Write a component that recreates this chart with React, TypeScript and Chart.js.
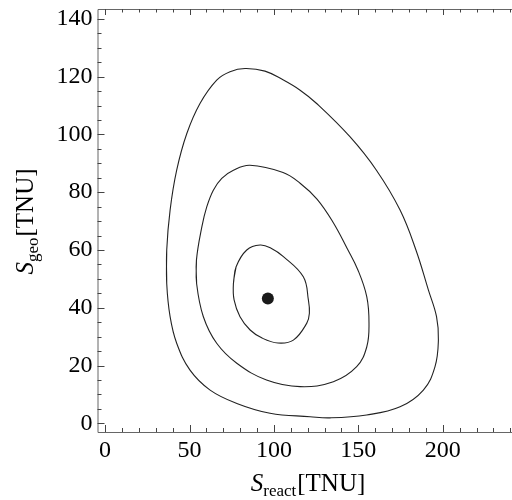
import React, { useEffect, useRef } from "react";
import { Chart, registerables } from "chart.js";

Chart.register(...registerables);

// ---- data ----
// Closed contours; each list starts on a straight stretch and repeats its first two points at the end.
const outerX = [36.5, 36.5, 38.5, 42.4, 48.4, 56.2, 66.1, 74.0, 82.9, 94.7, 105.6, 115.5, 125.3, 145, 160.7, 174.7, 184.1, 191.5, 196.3, 197.4, 195.4, 188.5, 174.7, 154.9, 133.2, 121.4, 97.7, 78, 62.2, 50.3, 42.4, 38.5, 36.5, 36.5];
const outerY = [48.4, 60, 73.8, 87.6, 100.3, 110.7, 118.8, 121.7, 122.8, 121.9, 118.8, 115.3, 110.7, 99.2, 87.6, 73.8, 60, 46.1, 36.9, 28.8, 19.6, 11.5, 5.7, 2.9, 1.9, 2.3, 3.5, 6.9, 11.5, 18.4, 27.7, 36.9, 48.4, 60];

const middleX = [54.2, 54.1, 57.3, 60.2, 64.1, 69.1, 76.0, 85.8, 105.4, 115.5, 125.5, 135.0, 143.3, 149.8, 155.0, 156.3, 155.0, 149.0, 135.2, 115.5, 95.6, 78.0, 66.1, 58.2, 54.2, 54.1];
const middleY = [48.4, 56.5, 68.0, 74.9, 80.7, 84.8, 87.6, 89.3, 86.8, 83.1, 77.6, 69.6, 60.6, 53.0, 43.8, 34.7, 26.5, 19.6, 14.4, 12.7, 15.0, 20.8, 27.7, 36.9, 48.4, 56.5];

const innerX = [76.0, 77.6, 83.9, 91.8, 98.3, 105.6, 117.4, 120.4, 121.0, 119.4, 111.5, 102.4, 93.0, 85.9, 79.9, 76.4, 76.0, 77.6];
const innerY = [48.4, 54.2, 60.0, 61.7, 60.6, 57.7, 50.7, 42.7, 38.1, 34.6, 28.8, 27.8, 29.5, 32.3, 36.9, 42.7, 48.4, 54.2];

const bestFitX = [96.4];
const bestFitY = [43.2];

const xTickValues = [0, 50, 100, 150, 200];
const yTickValues = [0, 20, 40, 60, 80, 100, 120, 140];
const xMinorStep = 10;
const yMinorStep = 5;

const xTitleParts = { main: "S", sub: "react", unit: "[TNU]" };
const yTitleParts = { main: "S", sub: "geo", unit: "[TNU]" };

const FONT = '"Liberation Serif", "Times New Roman", serif';

function toPoints(xs: number[], ys: number[]) {
  return xs.map((x, i) => ({ x, y: ys[i] }));
}

function drawMixedTitle(
  ctx: CanvasRenderingContext2D,
  parts: { main: string; sub: string; unit: string },
  cx: number,
  baseline: number
) {
  const mainFont = `italic 25px ${FONT}`;
  const subFont = `17px ${FONT}`;
  const unitFont = `25px ${FONT}`;
  ctx.font = mainFont;
  const wMain = ctx.measureText(parts.main).width;
  ctx.font = subFont;
  const wSub = ctx.measureText(parts.sub).width;
  ctx.font = unitFont;
  const wUnit = ctx.measureText(parts.unit).width;
  const total = wMain + wSub + 1 + wUnit;
  let x = cx - total / 2;
  ctx.textBaseline = "alphabetic";
  ctx.textAlign = "left";
  ctx.fillStyle = "#000";
  ctx.font = mainFont;
  ctx.fillText(parts.main, x, baseline);
  x += wMain;
  ctx.font = subFont;
  ctx.fillText(parts.sub, x, baseline + 5);
  x += wSub + 1;
  ctx.font = unitFont;
  ctx.fillText(parts.unit, x, baseline);
}

const framePlugin = {
  id: "mmaFrame",
  afterDraw(chart: any) {
    const { ctx, chartArea } = chart;
    const xs = chart.scales.x;
    const ys = chart.scales.y;
    const { left, right, top, bottom } = chartArea;
    ctx.save();
    // frame (the right side lies beyond the visible window)
    ctx.strokeStyle = "#666";
    ctx.lineWidth = 1;
    ctx.beginPath();
    ctx.moveTo(right, top + 0.5);
    ctx.lineTo(left + 0.5, top + 0.5);
    ctx.lineTo(left + 0.5, bottom + 0.5);
    ctx.lineTo(right, bottom + 0.5);
    ctx.stroke();
    // inward ticks
    ctx.strokeStyle = "#444";
    ctx.beginPath();
    const xMin = Math.ceil(xs.min / xMinorStep) * xMinorStep;
    for (let v = xMin; v <= xs.max; v += xMinorStep) {
      const px = Math.round(xs.getPixelForValue(v)) + 0.5;
      const major = v % 50 === 0;
      ctx.moveTo(px, bottom);
      ctx.lineTo(px, bottom - (major ? 7 : 4));
      ctx.moveTo(px, top);
      ctx.lineTo(px, top + (major ? 6 : 3.5));
    }
    const yMin = Math.ceil(ys.min / yMinorStep) * yMinorStep;
    for (let v = yMin; v <= ys.max; v += yMinorStep) {
      const py = Math.round(ys.getPixelForValue(v)) + 0.5;
      const major = yTickValues.indexOf(v) >= 0;
      ctx.moveTo(left, py);
      ctx.lineTo(left + (major ? 7 : 4), py);
    }
    ctx.stroke();

    // axis titles
    drawMixedTitle(ctx, xTitleParts, 308, 491);
    ctx.translate(33, (top + bottom) / 2 + 1);
    ctx.rotate(-Math.PI / 2);
    drawMixedTitle(ctx, yTitleParts, 0, 0);
    ctx.restore();
  },
};

export default function App() {
  const ref = useRef<HTMLCanvasElement | null>(null);

  useEffect(() => {
    if (!ref.current) return;
    const canvasW = 560;
    const plotRight = 527.2;
    const lineStyle = {
      showLine: true,
      borderColor: "#222",
      borderWidth: 1.1,
      pointRadius: 0,
      pointHoverRadius: 0,
      tension: 0.4,
      fill: false,
    };
    const chart = new Chart(ref.current, {
      type: "scatter",
      data: {
        datasets: [
          { label: "outer", data: toPoints(outerX, outerY), ...lineStyle },
          { label: "middle", data: toPoints(middleX, middleY), ...lineStyle },
          { label: "inner", data: toPoints(innerX, innerY), ...lineStyle },
          {
            label: "best fit",
            data: toPoints(bestFitX, bestFitY),
            showLine: false,
            pointRadius: 6,
            pointBackgroundColor: "#1a1a1a",
            pointBorderWidth: 0,
            pointBorderColor: "#1a1a1a",
          },
        ],
      },
      options: {
        animation: false,
        responsive: false,
        devicePixelRatio: 1,
        layout: { padding: { left: 0, top: 9, right: canvasW - plotRight, bottom: 0 } },
        plugins: { legend: { display: false }, tooltip: { enabled: false } },
        scales: {
          x: {
            type: "linear",
            position: "bottom",
            min: -4.5,
            max: 250,
            grid: { display: false, drawTicks: false },
            border: { display: false },
            ticks: {
              color: "#000",
              font: { family: FONT, size: 24 },
              padding: 4,
              maxRotation: 0,
              autoSkip: false,
              callback: (v: any) => String(v),
            },
            afterBuildTicks: (s: any) => {
              s.ticks = xTickValues.map((v) => ({ value: v }));
            },
            afterFit: (s: any) => {
              s.height = 68;
              s.paddingLeft = 0;
              s.paddingRight = 0;
            },
          },
          y: {
            type: "linear",
            min: -3,
            max: 143.4,
            grid: { display: false, drawTicks: false },
            border: { display: false },
            ticks: {
              color: "#000",
              font: { family: FONT, size: 24 },
              padding: 5,
              autoSkip: false,
              callback: (v: any) => String(v),
            },
            afterBuildTicks: (s: any) => {
              s.ticks = yTickValues.map((v) => ({ value: v }));
            },
            afterFit: (s: any) => {
              s.width = 97.5;
              s.paddingTop = 0;
              s.paddingBottom = 0;
            },
          },
        },
      },
      plugins: [framePlugin],
    } as any);
    return () => chart.destroy();
  }, []);

  return (
    <div
      style={{
        position: "fixed",
        left: 0,
        top: 0,
        width: 512,
        height: 500,
        overflow: "hidden",
        background: "#fff",
      }}
    >
      <canvas ref={ref} width={560} height={500} style={{ display: "block", width: 560, height: 500 }} />
    </div>
  );
}
